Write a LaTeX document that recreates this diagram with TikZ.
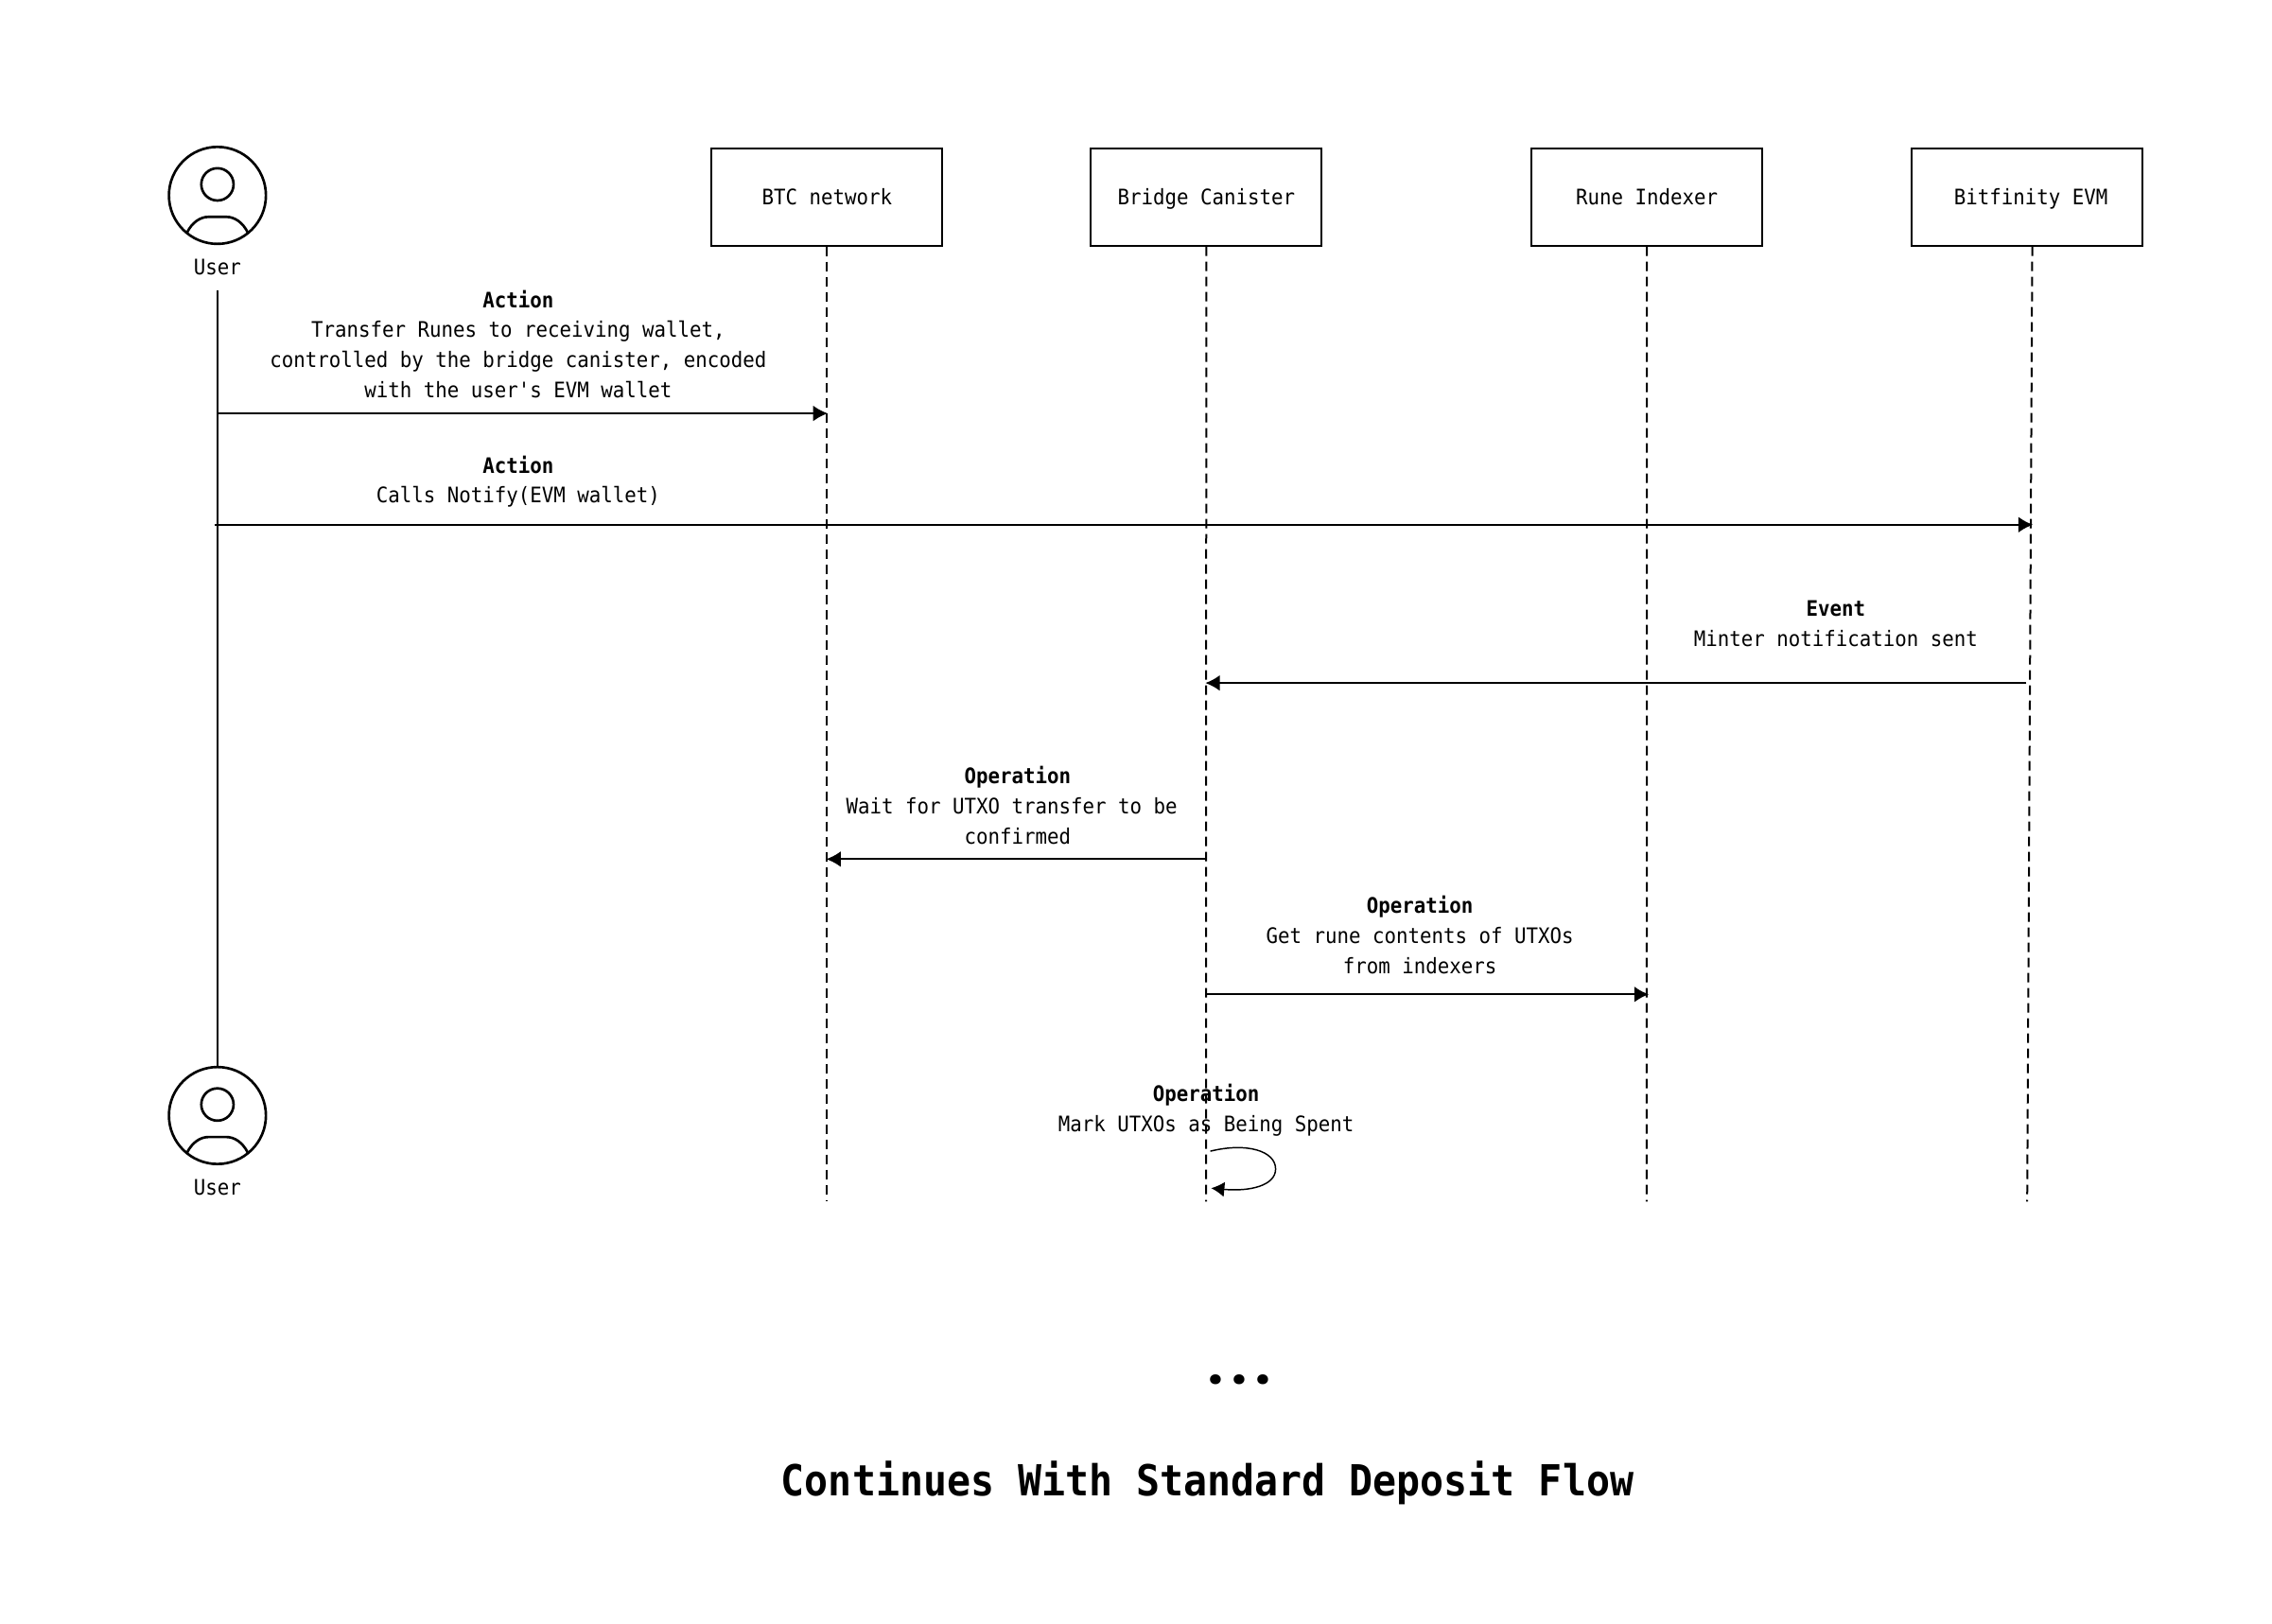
\documentclass[tikz,border=0pt]{standalone}
\usepackage{fontspec}
\newfontfamily\monof[FakeStretch=0.92]{DejaVu Sans Mono}
\newfontfamily\dotf{Poppins}
\usetikzlibrary{arrows.meta}
\tikzset{
  ln/.style={line width=1.5pt,black},
  life/.style={ln,dash pattern=on 7.5pt off 4.5pt},
  msg/.style={ln,-{Latex[length=11.5pt,width=12.5pt]}},
  lifebox/.style={draw,line width=1.5pt,minimum width=182.8pt,minimum height=76.7pt,inner sep=0pt,text height=14pt,text depth=2pt,font=\monof\fontsize{16.93}{23.8}\selectfont},
  lbl/.style={align=center,inner sep=0pt,font=\monof\fontsize{16.93}{23.8}\selectfont},
  userlbl/.style={inner sep=0pt,font=\monof\fontsize{16.93}{23.8}\selectfont},
  ttl/.style={inner sep=0pt,font=\monof\bfseries\fontsize{33.9}{40}\selectfont},
  dotsty/.style={inner sep=0pt,font=\dotf\bfseries\fontsize{42}{44}\selectfont},
  ring/.style={draw,circle,line width=2pt,minimum size=76.9pt,inner sep=0pt},
  headc/.style={draw,circle,line width=2pt,minimum size=25.6pt,inner sep=0pt},
  bodyarc/.style={line width=2pt,black},
}
\begin{document}
\begin{tikzpicture}[x=1.14938pt,y=-1.14938pt]
\useasboundingbox (0,0) rectangle (1567.4,1120.4);
% top user
\node[ring] (u1) at (150,134.8) {};
\node[headc] (u1h) at (150,127.2) {};
\draw[bodyarc] (129,160.5) .. controls (132.5,153.5) and (138,149.6) .. (144,149.6) -- (156,149.6) .. controls (162,149.6) and (167.5,153.5) .. (171,160.5);
\node[userlbl] (u1t) at (150,184.5) {User};
% bottom user
\node[ring] (u2) at (150,769.6) {};
\node[headc] (u2h) at (150,762) {};
\draw[bodyarc] (129,795.3) .. controls (132.5,788.3) and (138,784.4) .. (144,784.4) -- (156,784.4) .. controls (162,784.4) and (167.5,788.3) .. (171,795.3);
\node[userlbl] (u2t) at (150,819.5) {User};
% boxes
\node[lifebox] (btc) at (570.5,136) {BTC network};
\node[lifebox] (bridge) at (832.2,136) {Bridge Canister};
\node[lifebox] (rune) at (1136.2,136) {Rune Indexer};
\node[lifebox] (evm) at (1398.5,136) {\hspace*{6pt}Bitfinity EVM};
% lifelines
\coordinate (ul0) at (150,200);
\draw[ln] (ul0) -- (u2.north);
\coordinate (btcend) at (570.5,829);
\coordinate (brend) at (832,829);
\coordinate (ruend) at (1136,829);
\coordinate (evtop) at (1402,170);
\coordinate (evend) at (1398.5,829);
\draw[life] (btc.south) -- (btcend);
\draw[life] (bridge.south) -- (brend);
\draw[life] (rune.south) -- (ruend);
\draw[life] (evtop) -- (evend);
% arrows
\coordinate (a1s) at (150,285.2); \coordinate (a1e) at (571,285.2);
\coordinate (a2s) at (148,362); \coordinate (a2e) at (1402.5,362);
\coordinate (a3s) at (1398,471.2); \coordinate (a3e) at (831.5,471.2);
\coordinate (a4s) at (832,592.7); \coordinate (a4e) at (570,592.7);
\coordinate (a5s) at (832,686); \coordinate (a5e) at (1137.5,686);
\draw[msg] (a1s) -- (a1e);
\draw[msg] (a2s) -- (a2e);
\draw[msg] (a3s) -- (a3e);
\draw[msg] (a4s) -- (a4e);
\draw[msg] (a5s) -- (a5e);
\coordinate (a6s) at (835,794.2); \coordinate (a6e) at (835.5,819.7);
\draw[ln,line width=1.1pt,-{Latex[length=10.5pt,width=12pt]}] (a6s) .. controls (860,788) and (880,794) .. (880,806.5) .. controls (880,818) and (862,822.2) .. (a6e);
% labels
\node[lbl] (l1) at (357.5,237.4) {\textbf{Action}\\Transfer Runes to receiving wallet,\\controlled by the bridge canister, encoded\\with the user's EVM wallet};
\node[lbl] (l2) at (357.5,332.2) {\textbf{Action}\\Calls Notify(EVM wallet)};
\node[lbl] (l3) at (1266.5,430.5) {\textbf{Event}\\Minter notification sent};
\node[lbl] (l4) at (702,555.5) {\textbf{Operation}\\Wait for UTXO transfer to be\ \hbox{}\\confirmed};
\node[lbl] (l5) at (979.5,644.9) {\textbf{Operation}\\Get rune contents of UTXOs\\from indexers};
\node[lbl] (l6) at (832,766) {\textbf{Operation}\\Mark UTXOs as Being Spent};
\node[dotsty] (dots) at (854.8,952) {\makebox[18.75pt]{.}\makebox[18.75pt]{.}\makebox[18.75pt]{.}};
\node[ttl] (title) at (833,1023.3) {Continues With Standard Deposit Flow};
\end{tikzpicture}
\end{document}
